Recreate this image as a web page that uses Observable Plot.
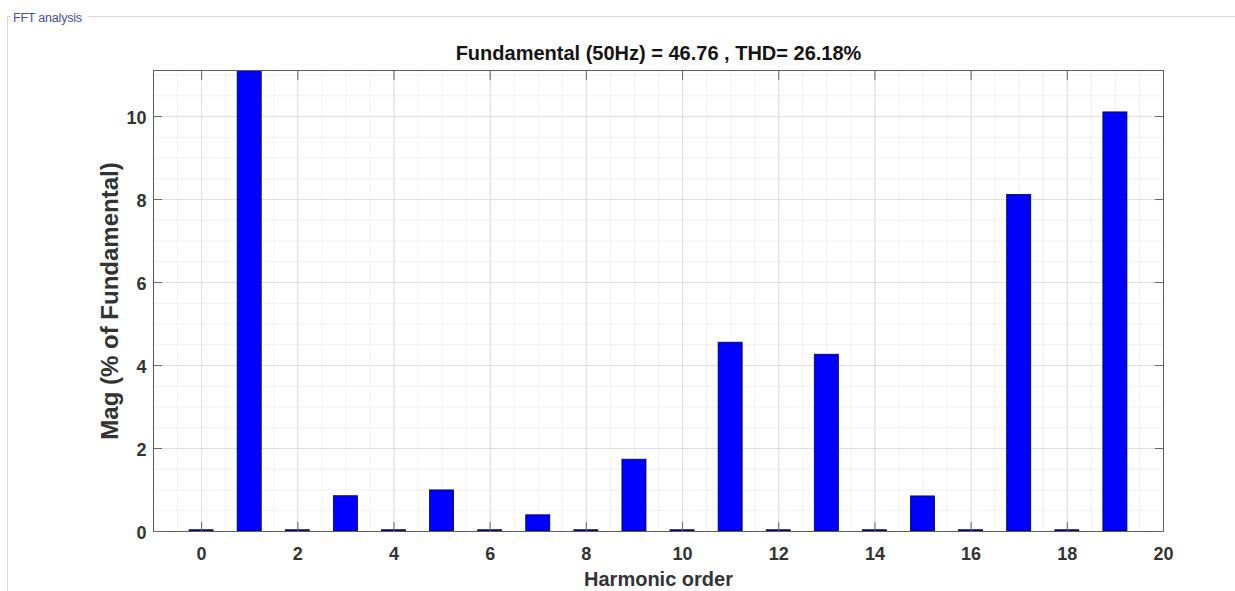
<!DOCTYPE html>
<html>
<head>
<meta charset="utf-8">
<script src="https://cdn.jsdelivr.net/npm/d3@7"></script>
<script src="https://cdn.jsdelivr.net/npm/@observablehq/plot@0.6"></script>
<style>
  html, body { margin: 0; padding: 0; background: #fff; overflow: hidden; }
  #wrap { position: relative; width: 1235px; height: 591px; overflow: hidden; }
  .gb { position: absolute; background: #d9d9d9; }
  #gbLabel { position: absolute; left: 13px; top: 11px; font: 12.5px "Liberation Sans", Arial, sans-serif; color: #4b4b9e; letter-spacing: -0.2px; }
  #chart { position: absolute; left: 0; top: 0; }
</style>
</head>
<body>
<div id="wrap">
  <div class="gb" style="left:7px;top:16px;width:1px;height:600px;"></div>
  <div class="gb" style="left:7px;top:16px;width:4px;height:1px;"></div>
  <div class="gb" style="left:88px;top:16px;width:1160px;height:1px;"></div>
  <div id="gbLabel">FFT analysis</div>
  <div id="chart"></div>
</div>
<script>
// Harmonic spectrum (% of fundamental)
const harmonics  = [0, 1, 2, 3, 4, 5, 6, 7, 8, 9, 10, 11, 12, 13, 14, 15, 16, 17, 18, 19];
const magnitudes = [0.03, 100, 0.03, 0.85, 0.03, 0.99, 0.03, 0.39, 0.03, 1.73, 0.03, 4.55, 0.03, 4.26, 0.03, 0.845, 0.03, 8.11, 0.03, 10.1];
const xTicks = [0, 2, 4, 6, 8, 10, 12, 14, 16, 18, 20];
const yTicks = [0, 2, 4, 6, 8, 10];
const xMinor = d3.range(-1, 20.001, 0.5);
const yMinor = d3.range(0, 11.2, 0.5);
const titleText = "Fundamental (50Hz) = 46.76 , THD= 26.18%";
const xLabel = "Harmonic order";
const yLabel = "Mag (% of Fundamental)";

const data = harmonics.map((h, i) => ({h, m: magnitudes[i]}));
const yMax = 1.1 * d3.max(data.filter(d => d.h !== 1), d => d.m);

const font = "'Liberation Sans', Arial, Helvetica, sans-serif";

const plot = Plot.plot({
  width: 1235,
  height: 591,
  marginLeft: 153,
  marginRight: 72,
  marginTop: 70,
  marginBottom: 60,
  style: {background: "transparent", fontFamily: font, overflow: "visible"},
  x: {domain: [-1, 20]},
  y: {domain: [0, yMax]},
  marks: [
    Plot.gridX(xMinor, {stroke: "#f1f1f1", strokeOpacity: 1}),
    Plot.gridY(yMinor, {stroke: "#f1f1f1", strokeOpacity: 1}),
    Plot.gridX(xTicks, {stroke: "#dedede", strokeOpacity: 1}),
    Plot.gridY(yTicks, {stroke: "#dedede", strokeOpacity: 1}),
    Plot.rectY(data, {
      x1: d => d.h - 0.25,
      x2: d => d.h + 0.25,
      y1: 0,
      y2: "m",
      fill: "#0000ff",
      stroke: "#00003c",
      strokeWidth: 0.8,
      clip: true
    }),
    Plot.frame({stroke: "#5c5c5c", strokeWidth: 1}),
    // inward ticks (MATLAB style box)
    Plot.axisX(xTicks, {anchor: "bottom", tickSize: 9, dy: -9, text: null, label: null, stroke: "#666"}),
    Plot.axisX(xTicks, {anchor: "top", tickSize: 9, dy: 9, text: null, label: null, stroke: "#666"}),
    Plot.axisY(yTicks, {anchor: "left", tickSize: 9, dx: 9, text: null, label: null, stroke: "#666"}),
    Plot.axisY(yTicks, {anchor: "right", tickSize: 9, dx: -9, text: null, label: null, stroke: "#666"}),
    // tick labels
    Plot.axisX(xTicks, {anchor: "bottom", tickSize: 0, tickPadding: 16, label: null, fontSize: 18, fontWeight: "bold", fill: "#333", stroke: "none"}),
    Plot.axisY(yTicks, {anchor: "left", tickSize: 0, tickPadding: 7, label: null, fontSize: 18, fontWeight: "bold", fill: "#333", stroke: "none", dy: 2}),
    // title and axis labels
    Plot.text([titleText], {frameAnchor: "top", textAnchor: "middle", lineAnchor: "middle", dy: -17, fontSize: 20, fontWeight: "bold", fill: "#141414"}),
    Plot.text([xLabel], {frameAnchor: "bottom", textAnchor: "middle", lineAnchor: "top", dy: 40, fontSize: 20, fontWeight: "bold", fill: "#333"}),
    Plot.text([yLabel], {frameAnchor: "left", textAnchor: "middle", lineAnchor: "middle", rotate: -90, dx: -43, fontSize: 24, fontWeight: "bold", fill: "#333"})
  ]
});

document.getElementById("chart").appendChild(plot);
</script>
</body>
</html>
